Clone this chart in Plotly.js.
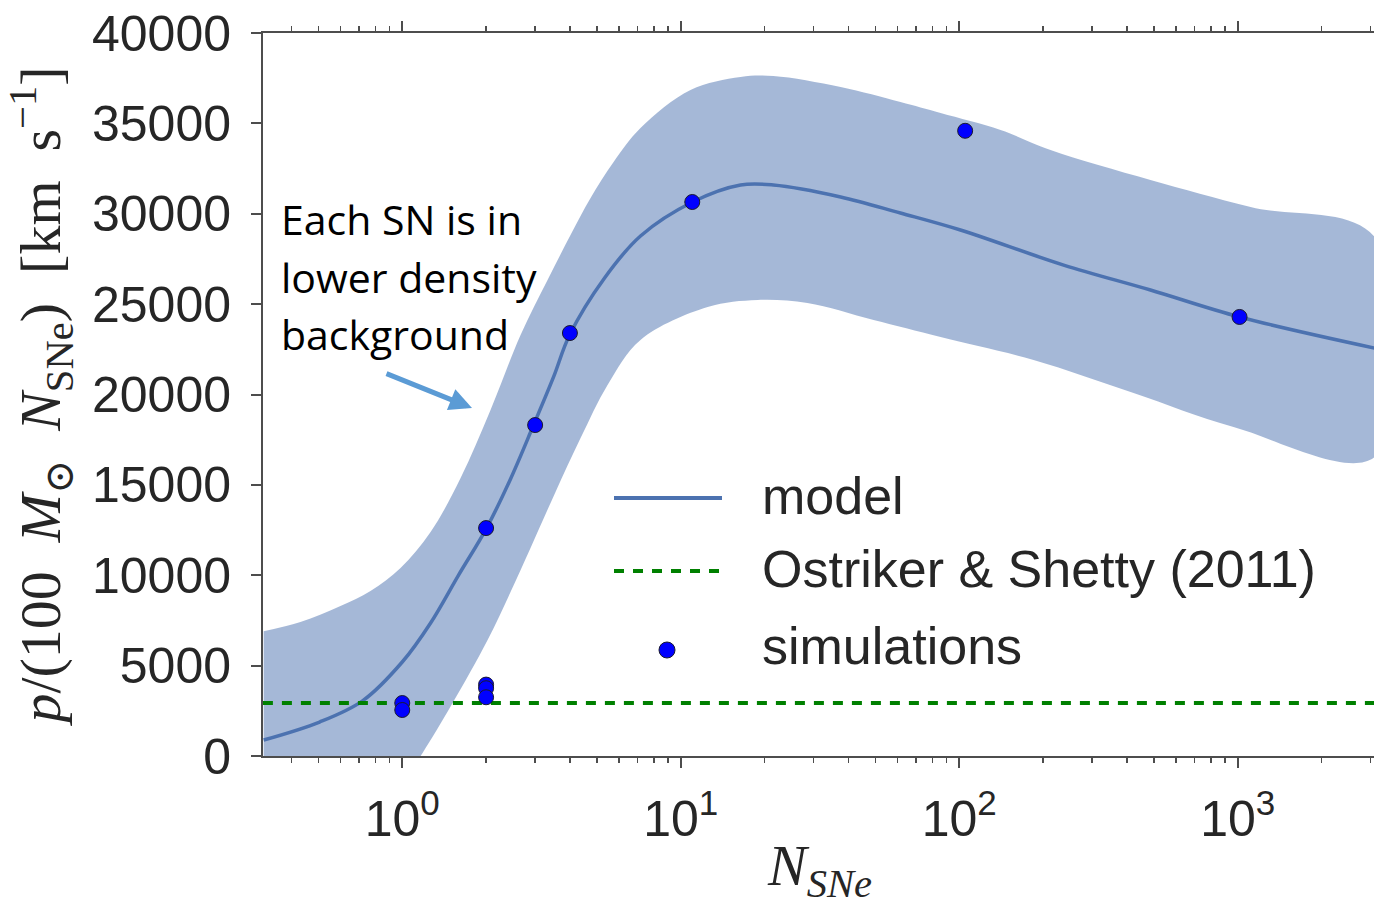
<!DOCTYPE html>
<html>
<head>
<meta charset="utf-8">
<script src="https://cdn.plot.ly/plotly-3.0.1.min.js"></script>
<style>
  html, body { margin: 0; padding: 0; background: #fff; overflow: hidden; }
  #chart { width: 1377px; height: 906px; }
</style>
</head>
<body>
<div id="chart"></div>
<script>
// Momentum per unit mass vs number of supernovae

// model curve
const modelN = [0.318, 0.505, 0.72, 1.0, 1.264, 1.593, 2.008, 2.448, 2.961, 3.494, 3.988, 5.327, 7.17, 11.03, 16.4, 21.5, 37.5, 61.5, 101, 237, 486, 1015, 3100];
const modelP = [885, 1880, 3050, 5200, 7360, 10010, 12610, 15330, 18310, 20970, 23290, 26450, 28770, 30650, 31590, 31590, 30930, 30040, 29100, 27160, 25780, 24290, 22570];

// uncertainty band: upper edge
const upperN = [0.318, 0.431, 0.600, 0.769, 0.986, 1.264, 1.62, 2.075, 2.66, 3.325, 4.02, 4.745, 5.74, 7.17, 10.84, 16.4, 21.5, 37.5, 61.5, 85.7, 140.7, 212.7, 486, 1112, 3100];
const upperP = [6900, 7410, 8300, 9130, 10400, 12390, 15380, 19140, 23290, 26330, 28820, 30870, 32860, 34740, 36850, 37570, 37620, 37010, 36180, 35570, 34630, 33530, 31870, 30370, 28710];

// uncertainty band: lower edge
const lowerN = [0.318, 0.553, 1.0, 1.183, 1.516, 2.025, 2.448, 2.888, 3.551, 4.368, 5.46, 7.17, 12.49, 18.87, 28.5, 49.25, 85.7, 184.9, 422.6, 965.8, 3100];
const lowerP = [-9000, -6000, -1500, 170, 2930, 6420, 9070, 11510, 14610, 17590, 20530, 23020, 24840, 25230, 25060, 24120, 23180, 21910, 20080, 18200, 16540];

// simulation results
const simN = [1, 1, 2, 2, 2, 2, 3, 4, 11, 105, 1015];
const simP = [2930, 2545, 3950, 3750, 3250, 12610, 18310, 23400, 30650, 34590, 24290];

// Ostriker & Shetty (2011) constant value
const osValue = 2930;
const xRange = [0.316, 3162];

// tick labels
const yTickVals = [0, 5000, 10000, 15000, 20000, 25000, 30000, 35000, 40000];
const xTickVals = [1, 10, 100, 1000];
const xTickText = ['10<sup>0</sup>', '10<sup>1</sup>', '10<sup>2</sup>', '10<sup>3</sup>'];

const legendLabels = ['model', 'Ostriker & Shetty (2011)', 'simulations'];
const noteLines = ['Each SN is in', 'lower density', 'background'];

// plot-area geometry (pixels) used for decorations placed in paper space
const W = 1377, H = 906;
const PL = 263, PR = 1377, PT = 33, PB = 756;
const px = x => (x - PL) / (PR - PL);
const py = y => (PB - y) / (PB - PT);

const BLUE = '#4C72B0';
const GREEN = '#008000';
const AXIS = '#4d4d4d';
const TEXT = '#262626';

const bandN = upperN.concat(lowerN.slice().reverse());
const bandP = upperP.concat(lowerP.slice().reverse());

const traces = [
  {
    x: bandN, y: bandP, type: 'scatter', mode: 'lines',
    fill: 'toself', fillcolor: 'rgba(76,114,176,0.5)',
    line: {width: 0, shape: 'spline', smoothing: 1.0},
    hoverinfo: 'skip', showlegend: false
  },
  {
    x: modelN, y: modelP, type: 'scatter', mode: 'lines',
    line: {color: BLUE, width: 3.5, shape: 'spline', smoothing: 1.0},
    name: legendLabels[0], showlegend: false
  },
  {
    x: xRange, y: [osValue, osValue], type: 'scatter', mode: 'lines',
    line: {color: GREEN, width: 4, dash: '10px,9px'},
    name: legendLabels[1], showlegend: false
  },
  {
    x: simN, y: simP, type: 'scatter', mode: 'markers',
    marker: {color: '#0000FF', size: 15, line: {color: '#1a1a2e', width: 1}},
    name: legendLabels[2], showlegend: false
  }
];

// hand-built legend
const legX0 = 614, legX1 = 722, legText = 760;
const legRows = [498, 571, 648];
const shapes = [
  {type: 'line', xref: 'paper', yref: 'paper', x0: px(legX0), x1: px(legX1), y0: py(legRows[0]), y1: py(legRows[0]),
   line: {color: BLUE, width: 4}},
  {type: 'line', xref: 'paper', yref: 'paper', x0: px(legX0), x1: px(legX1), y0: py(legRows[1]), y1: py(legRows[1]),
   line: {color: GREEN, width: 4, dash: '10px,9px'}},
  {type: 'circle', xref: 'paper', yref: 'paper',
   x0: px(667 - 8), x1: px(667 + 8), y0: py(650 + 8), y1: py(650 - 8),
   fillcolor: '#0000FF', line: {color: '#1a1a2e', width: 1}}
];

const annotations = legendLabels.map((t, i) => ({
  text: t, xref: 'paper', yref: 'paper', x: px(legText), y: py(legRows[i] - 2),
  xanchor: 'left', yanchor: 'middle', showarrow: false,
  font: {family: 'Liberation Sans, Arial, sans-serif', size: 52, color: TEXT}
}));

const noteRows = [219, 277, 334];
noteLines.forEach((t, i) => annotations.push({
  text: t, xref: 'paper', yref: 'paper', x: px(279), y: py(noteRows[i]),
  xanchor: 'left', yanchor: 'middle', showarrow: false,
  font: {family: 'Open Sans, Noto Sans, sans-serif', size: 41, color: '#000'}
}));

// arrow pointing at the band
annotations.push({
  text: '', xref: 'paper', yref: 'paper', x: px(472), y: py(408),
  showarrow: true, ax: -87, ay: -35, axref: 'pixel', ayref: 'pixel',
  arrowcolor: '#5B9BD5', arrowwidth: 5, arrowhead: 2, arrowsize: 0.9, standoff: 0
});

const layout = {
  width: W, height: H,
  margin: {l: PL, r: W - PR, t: PT, b: H - PB, pad: 0},
  paper_bgcolor: '#fff', plot_bgcolor: '#fff',
  showlegend: false,
  xaxis: {
    type: 'log', range: [-0.5, 3.5],
    tickmode: 'array', tickvals: xTickVals, ticktext: xTickText,
    ticks: 'outside', ticklen: 10, tickwidth: 2, tickcolor: AXIS,
    minor: {dtick: 'D1', ticks: 'outside', ticklen: 5, tickwidth: 1.5, tickcolor: AXIS, showgrid: false},
    showline: true, linecolor: AXIS, linewidth: 2, mirror: 'ticks',
    showgrid: false, zeroline: false,
    ticklabelstandoff: 8,
    tickfont: {family: 'Liberation Sans, Arial, sans-serif', size: 50, color: TEXT},
    title: {
      text: '<i>N</i><sub><i>SNe</i></sub>',
      font: {family: 'Liberation Serif, DejaVu Serif, serif', size: 58, color: TEXT},
      standoff: 6
    }
  },
  yaxis: {
    range: [0, 40000],
    tickmode: 'array', tickvals: yTickVals, tickformat: 'd',
    ticks: 'outside', ticklen: 10, tickwidth: 2, tickcolor: AXIS,
    showline: true, linecolor: AXIS, linewidth: 2,
    showgrid: false, zeroline: false,
    ticklabelstandoff: 10,
    tickfont: {family: 'Liberation Sans, Arial, sans-serif', size: 50, color: TEXT},
    title: {
      text: '<i>p</i>/(100\u2002<i>M</i><sub>\u2299</sub>\u2002<i>N</i><sub>SNe</sub>)\u2002[km\u2002s<sup>\u22121</sup>]',
      font: {family: 'Liberation Serif, DejaVu Serif, serif', size: 58, color: TEXT},
      standoff: 16
    }
  },
  shapes: shapes,
  annotations: annotations
};

Plotly.newPlot('chart', traces, layout, {displayModeBar: false, staticPlot: true});
</script>
</body>
</html>
